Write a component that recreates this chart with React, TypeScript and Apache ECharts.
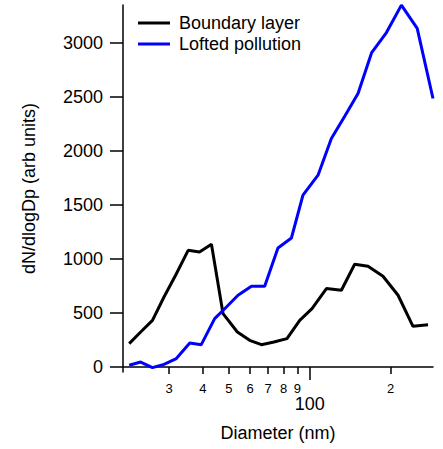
import React, { useEffect, useRef } from "react";
import * as echarts from "echarts";

// Boundary layer (black)
const blDiameter = [21.3, 23.5, 26.0, 28.7, 31.7, 35.3, 38.9, 43.1, 47.6, 53.8, 59.8, 66.1, 73.6, 82.3, 91.8, 102, 115.4, 131.2, 147, 164.8, 187.4, 213.2, 242.3, 275.6];
const blValues = [217, 324, 432, 648, 849, 1080, 1065, 1136, 494, 324, 247, 207, 231, 263, 432, 540, 726, 710, 951, 932, 840, 664, 377, 392];

// Lofted pollution (blue)
const lpDiameter = [21.3, 23.5, 26.0, 28.7, 31.9, 35.8, 39.5, 44.3, 49.0, 54.1, 60.7, 68.0, 76.2, 85.5, 94.4, 107.4, 120.4, 135, 151.3, 170.1, 193, 219.4, 251.2, 287.6];
const lpValues = [16, 46, -6, 25, 78, 222, 207, 448, 556, 664, 747, 747, 1102, 1194, 1590, 1775, 2115, 2320, 2531, 2910, 3095, 3349, 3133, 2485];

const xMinorTicks = [30, 40, 50, 60, 70, 80, 90, 200];
const xMajorTicks = [100];
const yTicks = [0, 500, 1000, 1500, 2000, 2500, 3000];

const FONT = "'Liberation Sans', Arial, sans-serif";

export default function App() {
  const ref = useRef<HTMLDivElement>(null);
  useEffect(() => {
    if (!ref.current) return;
    const chart = echarts.init(ref.current, undefined, { renderer: "svg" });
    const xMin = 20.2;
    const xMax = 287.6;
    const gridPos = { left: 123, right: 10, top: 5, bottom: 77, outerBoundsMode: "none" } as any;
    chart.setOption({
      animation: false,
      backgroundColor: "#fff",
      textStyle: { fontFamily: FONT },
      legend: {
        orient: "vertical",
        left: 133,
        top: 9,
        icon: "rect",
        itemWidth: 32,
        itemHeight: 3,
        itemGap: 3,
        textStyle: { fontSize: 18, color: "#000", fontFamily: FONT, lineHeight: 18, padding: [0, 0, 0, 4] },
        data: ["Boundary layer", "Lofted pollution"],
      },
      grid: [gridPos, { ...gridPos }],
      xAxis: [
        {
          type: "log",
          gridIndex: 0,
          min: xMin,
          max: xMax,
          name: "Diameter (nm)",
          nameLocation: "middle",
          nameGap: 52,
          nameTextStyle: { fontSize: 18, color: "#000", fontFamily: FONT },
          axisLine: { lineStyle: { color: "#000", width: 1.5 } },
          axisTick: { show: true, length: 7, customValues: xMinorTicks, lineStyle: { color: "#000", width: 1.5 } },
          axisLabel: {
            customValues: xMinorTicks,
            margin: 10,
            color: "#000",
            fontSize: 13,
            lineHeight: 12,
            fontFamily: FONT,
            formatter: (v: number) => {
              const r = Math.round(v);
              if (r >= 200) return String(r / 100);
              return String(r / 10);
            },
          },
          splitLine: { show: false },
          minorTick: { show: false },
        },
        {
          type: "log",
          gridIndex: 1,
          min: xMin,
          max: xMax,
          axisLine: { show: false },
          axisTick: { show: true, length: 13, customValues: xMajorTicks, lineStyle: { color: "#000", width: 1.5 } },
          axisLabel: {
            customValues: xMajorTicks,
            margin: 24,
            fontSize: 18,
            lineHeight: 16,
            color: "#000",
            fontFamily: FONT,
            formatter: (v: number) => String(Math.round(v)),
          },
          splitLine: { show: false },
        },
      ],
      yAxis: [
        {
          type: "value",
          gridIndex: 0,
          min: -46,
          max: 3350,
          name: "dN/dlogDp (arb units)",
          nameLocation: "middle",
          nameGap: 85,
          nameTextStyle: { fontSize: 18, color: "#000", fontFamily: FONT },
          axisLine: { show: true, lineStyle: { color: "#000", width: 1.5 } },
          axisTick: { show: true, length: 13, customValues: yTicks, lineStyle: { color: "#000", width: 1.5 } },
          axisLabel: {
            customValues: yTicks,
            margin: 20,
            fontSize: 18,
            color: "#000",
            fontFamily: FONT,
            formatter: (v: number) => String(v),
          },
          splitLine: { show: false },
        },
        {
          type: "value",
          gridIndex: 1,
          min: -46,
          max: 3350,
          show: false,
        },
      ],
      series: [
        {
          name: "Boundary layer",
          type: "line",
          xAxisIndex: 0,
          yAxisIndex: 0,
          data: blDiameter.map((d, i) => [d, blValues[i]]),
          showSymbol: false,
          symbol: "none",
          lineStyle: { color: "#000000", width: 3 },
          itemStyle: { color: "#000000" },
          clip: false,
        },
        {
          name: "Lofted pollution",
          type: "line",
          xAxisIndex: 0,
          yAxisIndex: 0,
          data: lpDiameter.map((d, i) => [d, lpValues[i]]),
          showSymbol: false,
          symbol: "none",
          lineStyle: { color: "#0000ff", width: 3 },
          itemStyle: { color: "#0000ff" },
          clip: false,
        },
      ],
    });
    return () => chart.dispose();
  }, []);
  return <div ref={ref} style={{ position: "fixed", left: 0, top: 0, width: 443, height: 449 }} />;
}
